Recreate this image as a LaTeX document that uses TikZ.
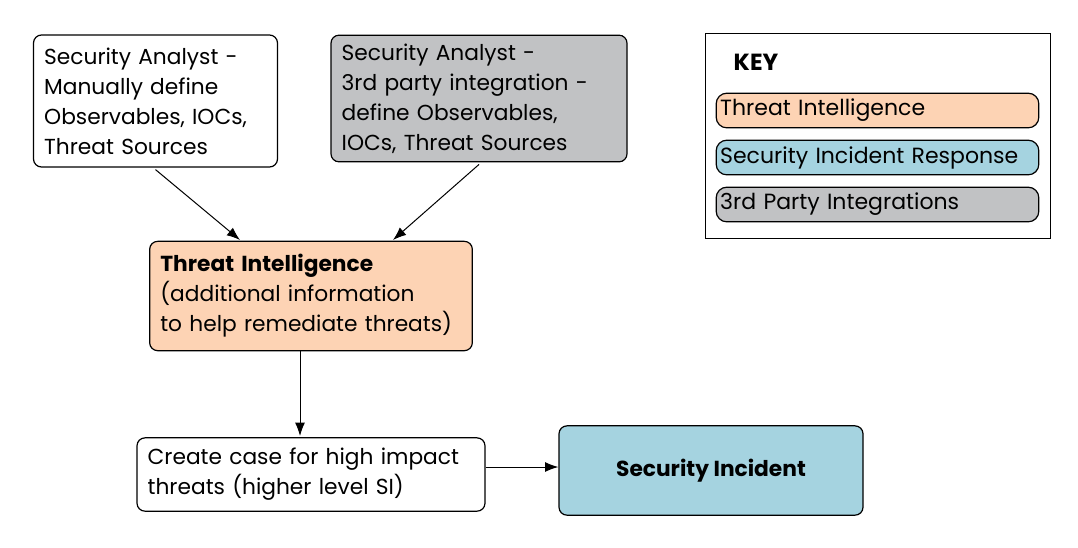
\documentclass[tikz,border=0pt]{standalone}
\usepackage{fontspec}
\setmainfont{Poppins}
\usetikzlibrary{arrows.meta,positioning}
\definecolor{tiorange}{HTML}{FDD3B4}
\definecolor{siblue}{HTML}{A5D3E0}
\definecolor{tpgray}{HTML}{C1C2C4}
\begin{document}
\begin{tikzpicture}[
  x=0.75pt, y=-0.75pt,
  >={Latex[length=3.5mm,width=2.6mm]},
  font=\fontsize{16.3}{22.5}\selectfont,
  line width=0.9pt,
  % boxes
  box/.style = {
    draw, rounded corners=6pt,
    align=left,
    inner xsep=8pt, inner ysep=4pt,
    anchor=center
  },
  keyitem/.style = {
    draw, rounded corners=8pt,
    minimum width=242pt, minimum height=26pt,
    text width=236pt, align=left,
    inner xsep=3pt, inner ysep=0pt,
    font=\fontsize{16.5}{20}\selectfont
  }
]
\useasboundingbox (0,0) rectangle (1078,547);

% ---- nodes ----
\node[box, fill=white, minimum width=181pt, minimum height=99pt, text width=167pt] (manual) at (155.5,101)
  {Security Analyst -\\Manually define\\Observables, IOCs,\\Threat Sources};
\node[box, fill=tpgray, minimum width=220pt, minimum height=95pt, text width=206pt] (thirdparty) at (479,98.5)
  {Security Analyst -\\3rd party integration -\\define Observables,\\IOCs, Threat Sources};
\node[box, fill=tiorange, minimum width=240pt, minimum height=82pt, text width=226pt] (ti) at (311,296)
  {\textbf{Threat Intelligence}\\(additional information\\to help remediate threats)};
\node[box, fill=white, minimum width=259pt, minimum height=55pt, text width=245pt] (case) at (311,474.5)
  {Create case for high impact\\threats (higher level SI)};
\node[box, fill=siblue, minimum width=228pt, minimum height=67pt, align=center] (si) at (711,470.5)
  {\textbf{Security Incident}};

% ---- key ----
\node[draw, line width=0.7pt, minimum width=259pt, minimum height=154pt] (key) at (878,136) {};
\node[font=\fontsize{17.5}{20}\selectfont\bfseries] (keytitle) at (756,62) {KEY};
\node[keyitem, fill=tiorange] (kti) at (877.5,110.5) {Threat Intelligence};
\node[keyitem, fill=siblue] (ksi) at (877.5,157.5) {Security Incident Response};
\node[keyitem, fill=tpgray] (ktp) at (877.5,204.5) {3rd Party Integrations};

% ---- arrows ----
\draw[->, line width=0.75pt] (manual.south) ++(0,2) coordinate (m1) (m1) -- (240,240);
\draw[->, line width=0.75pt] (thirdparty.south) ++(0,2) coordinate (t1) (t1) -- (393,240);
\draw[->, line width=0.75pt] (300,351) coordinate (t2) -- (300,436) coordinate (c1);
\draw[->, line width=0.75pt] (case.east |- 0,467) -- (si.west |- 0,467);
\end{tikzpicture}
\end{document}
